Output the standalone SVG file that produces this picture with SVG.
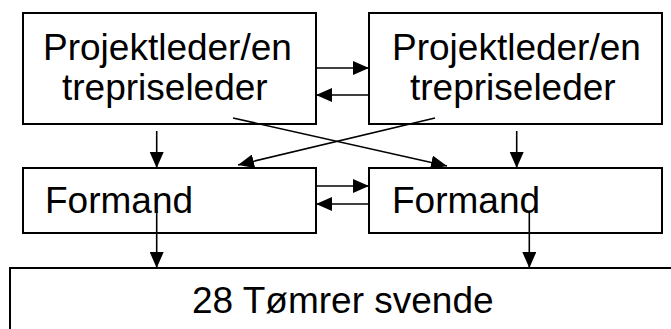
<svg xmlns="http://www.w3.org/2000/svg" width="671" height="329" viewBox="0 0 671 329">
<defs>
<marker id="ah" markerUnits="userSpaceOnUse" markerWidth="16" markerHeight="14" refX="16" refY="7" orient="auto">
<path d="M0,0 L16,7 L0,14 Z" fill="#000"/>
</marker>
<style>
.box{fill:#fff;stroke:#000;stroke-width:2}
.t{font-family:"Liberation Sans",Arial,sans-serif;font-size:37px;fill:#000}
.c{stroke:#000;stroke-width:1.6;fill:none;marker-end:url(#ah)}
</style>
</defs>
<rect width="671" height="329" fill="#fff"/>
<g id="pl1">
<rect class="box" x="23" y="13" width="293" height="111"/>
<text class="t" x="43" y="60">Projektleder/en</text>
<text class="t" x="62" y="100">trepriseleder</text>
</g>
<g id="pl2">
<rect class="box" x="369" y="13" width="293" height="111"/>
<text class="t" x="392" y="60">Projektleder/en</text>
<text class="t" x="410" y="100">trepriseleder</text>
</g>
<g id="f1">
<rect class="box" x="23" y="168" width="293" height="65"/>
<text class="t" x="45" y="213">Formand</text>
</g>
<g id="f2">
<rect class="box" x="369" y="168" width="293" height="65"/>
<text class="t" x="392" y="213">Formand</text>
</g>
<g id="svende">
<rect class="box" x="10" y="268" width="700" height="100"/>
<text class="t" x="192" y="313">28 Tømrer svende</text>
</g>
<g id="connectors">
<line class="c" x1="316" y1="68" x2="369" y2="68"/>
<line class="c" x1="369" y1="95" x2="316" y2="95"/>
<line class="c" x1="316" y1="186" x2="369" y2="186"/>
<line class="c" x1="369" y1="204" x2="316" y2="204"/>
<line class="c" x1="156.7" y1="131" x2="156.7" y2="168"/>
<line class="c" x1="516.7" y1="131" x2="516.7" y2="168"/>
<line class="c" x1="233" y1="118" x2="447" y2="166"/>
<line class="c" x1="435" y1="118" x2="238" y2="165"/>
<line class="c" x1="156.7" y1="211" x2="156.7" y2="268"/>
<line class="c" x1="529.3" y1="211" x2="529.3" y2="268"/>
</g>
</svg>
